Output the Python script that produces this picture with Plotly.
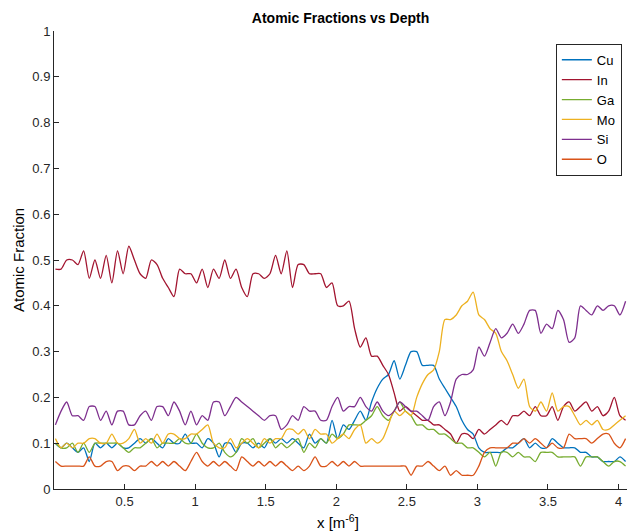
import numpy as np
import plotly.graph_objects as go

# Depth samples (x axis), 0.04 spacing
depth = np.round(0.01 + 0.04 * np.arange(102), 2)

cu = [0.10, 0.09, 0.10, 0.09, 0.08, 0.09, 0.06, 0.10, 0.09, 0.10,
      0.09, 0.10, 0.09, 0.09, 0.10, 0.11, 0.10, 0.11, 0.10, 0.09,
      0.11, 0.10, 0.10, 0.12, 0.10, 0.10, 0.09, 0.11, 0.10, 0.07,
      0.10, 0.10, 0.08, 0.10, 0.10, 0.09, 0.10, 0.09, 0.11, 0.10,
      0.11, 0.10, 0.11, 0.10, 0.09, 0.12, 0.10, 0.11, 0.10, 0.15,
      0.11, 0.14, 0.13, 0.15, 0.17, 0.15, 0.19, 0.22, 0.24, 0.25,
      0.28, 0.24, 0.27, 0.30, 0.30, 0.27, 0.27, 0.27, 0.24, 0.22,
      0.20, 0.18, 0.15, 0.13, 0.12, 0.09, 0.08, 0.08, 0.08, 0.08,
      0.09, 0.09, 0.10, 0.11, 0.09, 0.10, 0.09, 0.09, 0.11, 0.10,
      0.09, 0.09, 0.09, 0.08, 0.08, 0.07, 0.07, 0.06, 0.06, 0.06,
      0.07, 0.06]

indium = [0.48, 0.48, 0.50, 0.50, 0.49, 0.52, 0.46, 0.50, 0.46, 0.51,
          0.45, 0.52, 0.47, 0.53, 0.50, 0.47, 0.46, 0.50, 0.49, 0.46,
          0.44, 0.42, 0.48, 0.47, 0.47, 0.45, 0.48, 0.44, 0.48, 0.46,
          0.50, 0.46, 0.48, 0.44, 0.42, 0.47, 0.47, 0.46, 0.47, 0.51,
          0.47, 0.52, 0.44, 0.49, 0.49, 0.47, 0.47, 0.47, 0.44, 0.45,
          0.40, 0.40, 0.41, 0.35, 0.31, 0.33, 0.29, 0.29, 0.27, 0.25,
          0.21, 0.17, 0.18, 0.17, 0.16, 0.15, 0.15, 0.14, 0.14, 0.13,
          0.12, 0.10, 0.12, 0.12, 0.11, 0.13, 0.12, 0.13, 0.14, 0.15,
          0.14, 0.16, 0.16, 0.17, 0.16, 0.18, 0.16, 0.16, 0.18, 0.15,
          0.18, 0.19, 0.17, 0.18, 0.19, 0.17, 0.18, 0.16, 0.17, 0.20,
          0.16, 0.15]

ga = [0.10, 0.09, 0.09, 0.10, 0.08, 0.10, 0.08, 0.10, 0.10, 0.10,
      0.10, 0.10, 0.09, 0.08, 0.09, 0.09, 0.10, 0.11, 0.09, 0.10,
      0.10, 0.10, 0.11, 0.10, 0.10, 0.12, 0.10, 0.09, 0.09, 0.10,
      0.08, 0.07, 0.08, 0.11, 0.10, 0.11, 0.09, 0.10, 0.11, 0.09,
      0.10, 0.09, 0.10, 0.11, 0.08, 0.10, 0.09, 0.11, 0.10, 0.12,
      0.11, 0.12, 0.14, 0.14, 0.14, 0.15, 0.16, 0.18, 0.16, 0.15,
      0.17, 0.19, 0.17, 0.16, 0.14, 0.14, 0.13, 0.13, 0.12, 0.12,
      0.11, 0.10, 0.10, 0.09, 0.09, 0.08, 0.07, 0.08, 0.05, 0.08,
      0.08, 0.07, 0.08, 0.07, 0.07, 0.06, 0.08, 0.08, 0.08, 0.07,
      0.07, 0.07, 0.07, 0.05, 0.07, 0.07, 0.07, 0.06, 0.05, 0.06,
      0.06, 0.05]

mo = [0.11, 0.09, 0.10, 0.09, 0.10, 0.10, 0.11, 0.11, 0.10, 0.10,
      0.12, 0.10, 0.10, 0.11, 0.13, 0.10, 0.11, 0.10, 0.12, 0.10,
      0.12, 0.12, 0.11, 0.11, 0.12, 0.12, 0.13, 0.14, 0.10, 0.09,
      0.09, 0.11, 0.09, 0.10, 0.11, 0.10, 0.09, 0.11, 0.10, 0.11,
      0.11, 0.13, 0.13, 0.12, 0.13, 0.11, 0.13, 0.12, 0.12, 0.10,
      0.11, 0.12, 0.11, 0.13, 0.14, 0.10, 0.11, 0.10, 0.11, 0.14,
      0.17, 0.16, 0.17, 0.16, 0.20, 0.23, 0.25, 0.26, 0.30, 0.37,
      0.37, 0.38, 0.40, 0.41, 0.43, 0.38, 0.37, 0.35, 0.34, 0.30,
      0.28, 0.25, 0.22, 0.24, 0.18, 0.17, 0.19, 0.17, 0.21, 0.17,
      0.18, 0.18, 0.16, 0.14, 0.15, 0.14, 0.15, 0.13, 0.13, 0.14,
      0.15, 0.16]

si = [0.14, 0.17, 0.19, 0.16, 0.16, 0.15, 0.18, 0.18, 0.15, 0.17,
      0.14, 0.17, 0.17, 0.14, 0.14, 0.16, 0.17, 0.15, 0.18, 0.18,
      0.16, 0.19, 0.17, 0.14, 0.17, 0.14, 0.16, 0.15, 0.19, 0.19,
      0.16, 0.18, 0.20, 0.19, 0.18, 0.17, 0.16, 0.15, 0.16, 0.16,
      0.13, 0.14, 0.16, 0.15, 0.18, 0.17, 0.17, 0.15, 0.15, 0.18,
      0.20, 0.17, 0.18, 0.18, 0.20, 0.18, 0.17, 0.19, 0.17, 0.16,
      0.17, 0.19, 0.18, 0.17, 0.17, 0.16, 0.15, 0.18, 0.19, 0.16,
      0.19, 0.24, 0.25, 0.25, 0.26, 0.31, 0.29, 0.32, 0.35, 0.33,
      0.34, 0.36, 0.34, 0.36, 0.39, 0.39, 0.34, 0.36, 0.35, 0.39,
      0.37, 0.32, 0.33, 0.40, 0.39, 0.38, 0.40, 0.39, 0.40, 0.40,
      0.38, 0.41]

oxy = [0.06, 0.05, 0.05, 0.05, 0.05, 0.05, 0.07, 0.05, 0.05, 0.06,
       0.06, 0.04, 0.05, 0.05, 0.04, 0.05, 0.05, 0.06, 0.05, 0.06,
       0.05, 0.06, 0.05, 0.04, 0.06, 0.08, 0.06, 0.05, 0.06, 0.05,
       0.06, 0.05, 0.04, 0.07, 0.06, 0.05, 0.06, 0.05, 0.06, 0.05,
       0.06, 0.05, 0.04, 0.05, 0.04, 0.05, 0.07, 0.05, 0.05, 0.06,
       0.05, 0.06, 0.05, 0.06, 0.05, 0.05, 0.05, 0.05, 0.05, 0.05,
       0.05, 0.05, 0.05, 0.03, 0.05, 0.05, 0.06, 0.05, 0.04, 0.05,
       0.03, 0.04, 0.03, 0.03, 0.03, 0.05, 0.08, 0.09, 0.09, 0.09,
       0.09, 0.10, 0.10, 0.11, 0.10, 0.11, 0.10, 0.09, 0.10, 0.09,
       0.09, 0.12, 0.11, 0.11, 0.11, 0.10, 0.11, 0.12, 0.12, 0.10,
       0.09, 0.11]

names = ["Cu", "In", "Ga", "Mo", "Si", "O"]
colors = ["#0072BD", "#A2142F", "#77AC30", "#EDB120", "#7E2F8E", "#D95319"]
series = [cu, indium, ga, mo, si, oxy]

xticks = [0.5, 1, 1.5, 2, 2.5, 3, 3.5, 4]
yticks = [0, 0.1, 0.2, 0.3, 0.4, 0.5, 0.6, 0.7, 0.8, 0.9, 1]

fig = go.Figure()
for name, col, vals in zip(names, colors, series):
    fig.add_trace(go.Scatter(x=depth, y=vals, mode="lines", name=name,
                             line=dict(color=col, width=1.3,
                                       shape="spline", smoothing=0.7)))

axis_color = "#262626"
font_family = "Liberation Sans, Arial, sans-serif"

fig.update_layout(
    width=627, height=531,
    margin=dict(l=54, r=0, t=31, b=42),
    paper_bgcolor="white", plot_bgcolor="white",
    font=dict(family=font_family, size=13, color=axis_color),
    title=dict(text="<b>Atomic Fractions vs Depth</b>", x=0.5, xref="paper",
               xanchor="center", y=1 - 18 / 531, yanchor="middle",
               font=dict(size=14, color="black")),
    xaxis=dict(range=[0, 4.06], tickvals=xticks,
               ticktext=[f"{t:g}" for t in xticks],
               ticks="inside", ticklen=5, tickcolor=axis_color,
               showline=True, linecolor=axis_color, linewidth=1,
               showgrid=False, zeroline=False, mirror=False),
    yaxis=dict(range=[0, 1], tickvals=yticks,
               ticktext=[f"{t:g}" for t in yticks],
               ticks="inside", ticklen=5, tickcolor=axis_color,
               showline=True, linecolor=axis_color, linewidth=1,
               showgrid=False, zeroline=False, mirror=False),
    legend=dict(x=0.991, y=0.972, xanchor="right", yanchor="top",
                bgcolor="white", bordercolor=axis_color, borderwidth=1,
                font=dict(size=13, color="black"), tracegroupgap=0),
    annotations=[
        dict(text="Atomic Fraction", textangle=-90, xref="paper", yref="paper",
             x=(18 - 54) / 573, y=0.5, xanchor="center", yanchor="middle",
             showarrow=False, font=dict(size=15, color="black")),
        dict(text="x [m<sup>-6</sup>]", xref="paper", yref="paper",
             x=0.496, y=(489 - 521) / 458, xanchor="center", yanchor="middle",
             showarrow=False, font=dict(size=15, color="black")),
    ],
)

fig.write_html("out.html")
